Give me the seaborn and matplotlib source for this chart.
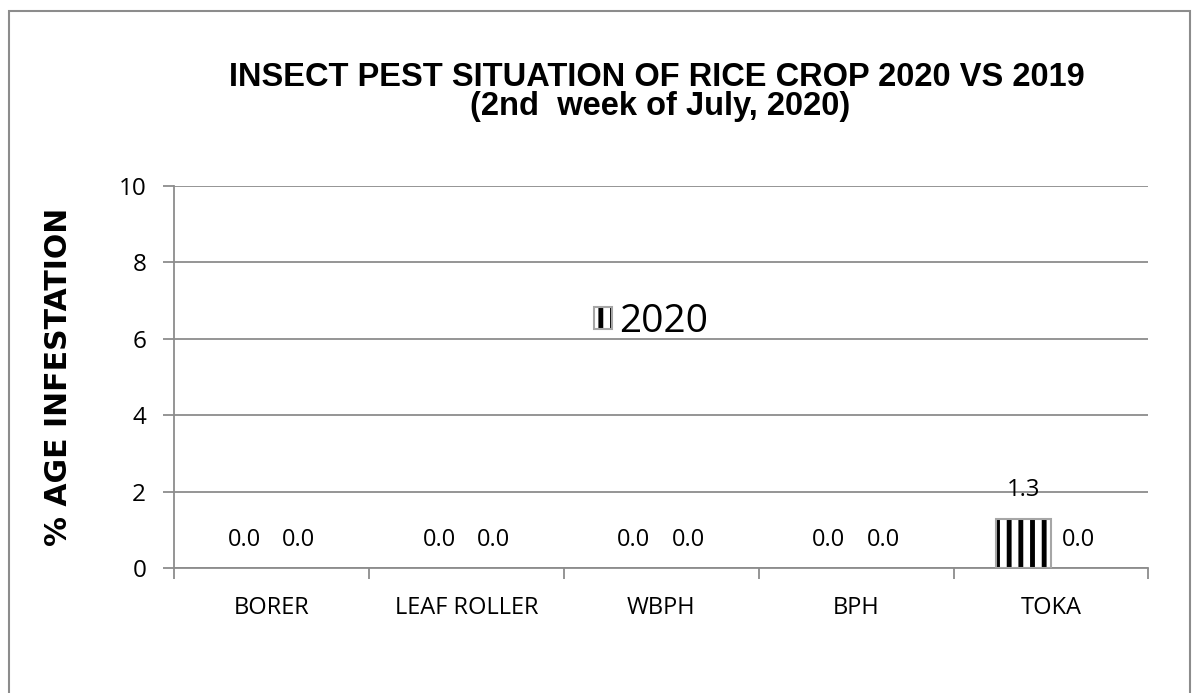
import pandas as pd
import seaborn as sns
import matplotlib.pyplot as plt
from matplotlib.patches import Patch, Rectangle

pests = ["BORER", "LEAF ROLLER", "WBPH", "BPH", "TOKA"]
infest_2020 = [0.0, 0.0, 0.0, 0.0, 1.3]
infest_2019 = [0.0, 0.0, 0.0, 0.0, 0.0]

df = pd.DataFrame({
    "pest": pests * 2,
    "year": ["2020"] * 5 + ["2019"] * 5,
    "value": infest_2020 + infest_2019,
})

# dpi chosen so the "||" hatch spacing matches the stripes of the original
DPI = 140
S = 100 / DPI  # sizes below are tuned for 100 dpi, scale them

sns.set_style("white")
plt.rcParams["font.family"] = ["Open Sans", "DejaVu Sans"]
plt.rcParams["text.color"] = "black"
plt.rcParams["xtick.color"] = "black"
plt.rcParams["ytick.color"] = "black"
plt.rcParams["axes.labelcolor"] = "black"
plt.rcParams["hatch.linewidth"] = 2.5
plt.rcParams["hatch.color"] = "black"

grey = "#8c8c8c"
edge_grey = "#a6a6a6"

fig = plt.figure(figsize=(1200 / DPI, 693 / DPI), dpi=DPI)
ax = fig.add_axes([0.145, 0.180, 0.812, 0.552])

sns.barplot(data=df, x="pest", y="value", hue="year", order=pests,
            hue_order=["2020", "2019"], width=0.56, gap=0, legend=False, ax=ax)

for bar in ax.containers[0]:
    bar.set_facecolor("white")
    bar.set_hatch("||")
    bar.set_edgecolor("black")
    bar.set_linewidth(0)
    # grey outline on top of the hatched bar
    if bar.get_height() > 0:
        ax.add_patch(Rectangle(bar.get_xy(), bar.get_width(), bar.get_height(),
                               fill=False, edgecolor=edge_grey, linewidth=1.5 * S, zorder=3))
for bar in ax.containers[1]:
    bar.set_facecolor("none")
    bar.set_edgecolor("none")

for cont in ax.containers:
    ax.bar_label(cont, fmt="%.1f", padding=12 * S, fontsize=17 * S)

ax.set_ylim(0, 10)
ax.set_xlim(-0.5, 4.5)
ax.set_yticks([0, 2, 4, 6, 8, 10])
ax.yaxis.grid(True, color=grey, linewidth=1.3 * S)
ax.set_axisbelow(True)
for side in ["top", "right"]:
    ax.spines[side].set_visible(False)
for side in ["left", "bottom"]:
    ax.spines[side].set_color(grey)
    ax.spines[side].set_linewidth(1.3 * S)

ax.set_xticks([-0.5, 0.5, 1.5, 2.5, 3.5, 4.5])
ax.set_xticklabels([])
ax.set_xticks(range(len(pests)), minor=True)
ax.set_xticklabels(pests, minor=True)
ax.tick_params(axis="x", which="major", length=8 * S, width=1.3 * S, color=grey,
               direction="out", bottom=True)
ax.tick_params(axis="x", which="minor", length=0, labelsize=17 * S, pad=20 * S)
ax.tick_params(axis="y", length=8 * S, width=1.3 * S, color=grey, direction="out", left=True,
               labelsize=17.5 * S, pad=12 * S)

ax.set_xlabel("")
ax.set_ylabel("% AGE INFESTATION", fontsize=21.5 * S, fontweight="bold", family=["DejaVu Sans"])
ax.yaxis.set_label_coords(-0.104, 0.5)

fig.text(0.547, 1 - 77 / 693, "INSECT PEST SITUATION OF RICE CROP 2020 VS 2019",
         ha="center", va="center", fontsize=23.5 * S, fontweight="bold",
         family=["Liberation Sans", "DejaVu Sans"])
fig.text(0.55, 1 - 107 / 693, "(2nd  week of July, 2020)",
         ha="center", va="center", fontsize=23.5 * S, fontweight="bold",
         family=["Liberation Sans", "DejaVu Sans"])

hatch_handle = Patch(facecolor="white", edgecolor="black", hatch="||", linewidth=0)
edge_handle = Patch(facecolor="none", edgecolor=edge_grey, linewidth=1.5 * S)
ax.legend([(hatch_handle, edge_handle)], ["2020"], loc="center", bbox_to_anchor=(0.49, 0.644),
          frameon=False, fontsize=28 * S, handlelength=0.45, handleheight=0.5,
          handletextpad=0.2)

fig.patches.append(Rectangle((0.0075, -0.05), 0.984, 1.034, transform=fig.transFigure,
                             fill=False, edgecolor=grey, linewidth=1.5 * S))

fig.savefig("out.png", dpi=DPI)
